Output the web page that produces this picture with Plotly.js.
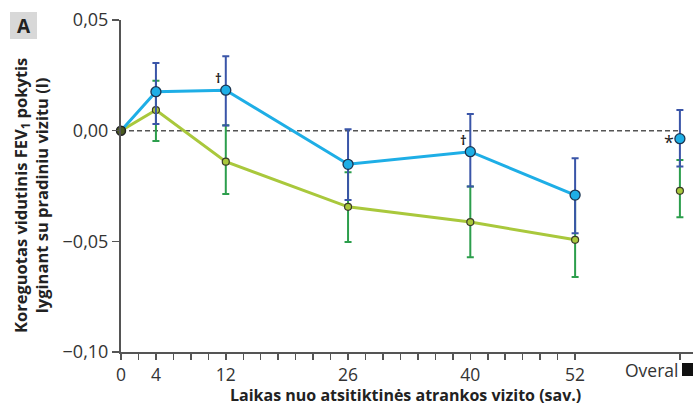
<!DOCTYPE html>
<html>
<head>
<meta charset="utf-8">
<script src="https://cdn.plot.ly/plotly-3.0.1.min.js"></script>
<style>
  html, body { margin: 0; padding: 0; background: #fff; }
  #chart { width: 693px; height: 405px; }
</style>
</head>
<body>
<div id="chart"></div>
<script>
// Study visits (weeks since randomisation) and the pooled "Overall" column
const weeks = [0, 4, 12, 26, 40, 52];
const overallWeek = 64;

// Blue arm: adjusted mean change in FEV1 (l) with interval bounds
const armAMean = [0, 0.0176, 0.0183, -0.0152, -0.0095, -0.0291];
const armAHigh = [0, 0.0306, 0.0336, 0.0006, 0.0075, -0.0125];
const armALow  = [0, 0.0030, 0.0023, -0.0313, -0.0252, -0.0463];
const armAOverall = { mean: -0.0036, high: 0.0093, low: -0.0162 };

// Green arm
const armBMean = [0, 0.0093, -0.0140, -0.0344, -0.0413, -0.0493];
const armBHigh = [0, 0.0225, 0.0025, -0.0188, -0.0252, -0.0305];
const armBLow  = [0, -0.0047, -0.0286, -0.0503, -0.0572, -0.0661];
const armBOverall = { mean: -0.0272, high: -0.0132, low: -0.0391 };

// Axis ticks: a tick every two weeks up to 52, plus the Overall column
const xTickVals = [0, 2, 4, 6, 8, 10, 12, 14, 16, 18, 20, 22, 24, 26, 28, 30, 32, 34, 36, 38, 40, 42, 44, 46, 48, 50, 52, 64];
const xTickLabels = { 0: '0', 4: '4', 12: '12', 26: '26', 40: '40', 52: '52' };
const yTickVals = [-0.10, -0.05, 0, 0.05];

// Significance marks placed next to blue points
const marks = [
  { x: 12, y: armAMean[2], text: '<b>\u2020</b>', dx: -7, dy: 12, size: 13 },
  { x: 40, y: armAMean[4], text: '<b>\u2020</b>', dx: -7, dy: 12, size: 13 },
  { x: overallWeek, y: armAOverall.mean, text: '*', dx: -11, dy: -3, size: 18 }
];

const FONT = 'Open Sans, Lato, sans-serif';
const BLUE = '#1eaee6', BLUE_ERR = '#3a55a8';
const GREEN = '#a9c83c', GREEN_ERR = '#2c9e4c';

// Error bar arrays derived from bounds, visit points followed by Overall
function errPlus(mean, high, ov) {
  return mean.slice(1).map((m, i) => high[i + 1] - m).concat([ov.high - ov.mean]);
}
function errMinus(mean, low, ov) {
  return mean.slice(1).map((m, i) => m - low[i + 1]).concat([ov.mean - ov.low]);
}
const pointX = weeks.slice(1).concat([overallWeek]);

const traces = [
  // green arm
  { x: weeks, y: armBMean, mode: 'lines', line: { color: GREEN, width: 3 },
    hoverinfo: 'skip', cliponaxis: false },
  { x: pointX, y: armBMean.slice(1).concat([armBOverall.mean]), mode: 'markers',
    marker: { size: 7, color: GREEN, line: { color: '#3b3b2a', width: 1.2 } },
    error_y: { type: 'data', symmetric: false,
      array: errPlus(armBMean, armBHigh, armBOverall),
      arrayminus: errMinus(armBMean, armBLow, armBOverall),
      color: GREEN_ERR, thickness: 2, width: 3.5 },
    cliponaxis: false },
  // blue arm
  { x: weeks, y: armAMean, mode: 'lines', line: { color: BLUE, width: 3 },
    hoverinfo: 'skip', cliponaxis: false },
  { x: pointX, y: armAMean.slice(1).concat([armAOverall.mean]), mode: 'markers',
    marker: { size: 10, color: BLUE, line: { color: '#1d3550', width: 1.3 } },
    error_y: { type: 'data', symmetric: false,
      array: errPlus(armAMean, armAHigh, armAOverall),
      arrayminus: errMinus(armAMean, armALow, armAOverall),
      color: BLUE_ERR, thickness: 2, width: 3.5 },
    cliponaxis: false },
  // shared baseline point
  { x: [weeks[0]], y: [armAMean[0]], mode: 'markers',
    marker: { size: 9, color: '#4a5a20', line: { color: '#222', width: 1.5 } },
    cliponaxis: false }
];

// pixel helpers for paper-anchored decorations (plot area: 121..693 x 20..352)
const L = 121, R = 693, T = 20, B = 352;
const px = v => (v - L) / (R - L);
const py = v => (B - v) / (B - T);

const annotations = marks.map(m => ({
  x: m.x, y: m.y, xref: 'x', yref: 'y', text: m.text, showarrow: false,
  xshift: m.dx, yshift: m.dy, font: { family: FONT, size: m.size, color: '#222' }
}));
annotations.push(
  { xref: 'paper', yref: 'paper', x: px(31), y: py(196), textangle: -90,
    text: '<b>Koreguotas vidutinis FEV<sub>1</sub> pokytis<br>lyginant su pradiniu vizitu (l)</b>',
    showarrow: false, xanchor: 'center', yanchor: 'middle',
    font: { family: FONT, size: 16.5, color: '#222' } },
  { xref: 'paper', yref: 'paper', x: px(405), y: py(395),
    text: '<b>Laikas nuo atsitiktinės atrankos vizito (sav.)</b>',
    showarrow: false, xanchor: 'center', yanchor: 'middle',
    font: { family: FONT, size: 16, color: '#222' } },
  { xref: 'paper', yref: 'paper', x: px(680), y: py(370), text: 'Overal',
    showarrow: false, xanchor: 'right', yanchor: 'middle',
    font: { family: FONT, size: 17.5, color: '#333' } },
  { xref: 'paper', yref: 'paper', x: px(23.5), y: py(26), text: '<b>A</b>',
    showarrow: false, xanchor: 'center', yanchor: 'middle',
    font: { family: FONT, size: 19, color: '#222' } }
);

const shapes = [
  { type: 'line', xref: 'x', yref: 'y', x0: 0, x1: overallWeek, y0: 0, y1: 0,
    line: { color: '#555', width: 1.5, dash: '5px,3px' }, layer: 'below' },
  { type: 'rect', xref: 'paper', yref: 'paper', x0: px(10), x1: px(37), y0: py(39), y1: py(12),
    fillcolor: '#d8d8d8', line: { width: 0 }, layer: 'below' },
  { type: 'rect', xref: 'paper', yref: 'paper', x0: px(682), x1: px(693), y0: py(376), y1: py(363),
    fillcolor: '#111', line: { width: 0 } }
];

const layout = {
  width: 693, height: 405,
  margin: { l: L, r: 693 - R, t: T, b: 405 - B },
  paper_bgcolor: '#fff', plot_bgcolor: '#fff',
  showlegend: false,
  separators: ',.',
  font: { family: FONT, color: '#333' },
  xaxis: {
    range: [0, 65.5], showgrid: false, zeroline: false,
    showline: true, linecolor: '#555', linewidth: 2,
    ticks: 'outside', ticklen: 6, tickwidth: 1.5, tickcolor: '#555',
    tickmode: 'array', tickvals: xTickVals,
    ticktext: xTickVals.map(v => xTickLabels[v] || ''),
    tickfont: { family: FONT, size: 17.5, color: '#333' }, fixedrange: true
  },
  yaxis: {
    range: [-0.10, 0.05], showgrid: false, zeroline: false,
    showline: true, linecolor: '#555', linewidth: 2,
    ticks: 'outside', ticklen: 7, tickwidth: 1.5, tickcolor: '#555',
    tickmode: 'array', tickvals: yTickVals, tickformat: '.2f',
    tickfont: { family: FONT, size: 18, color: '#333' }, fixedrange: true
  },
  annotations: annotations,
  shapes: shapes
};

Plotly.newPlot('chart', traces, layout, { staticPlot: true, displayModeBar: false });
</script>
</body>
</html>
